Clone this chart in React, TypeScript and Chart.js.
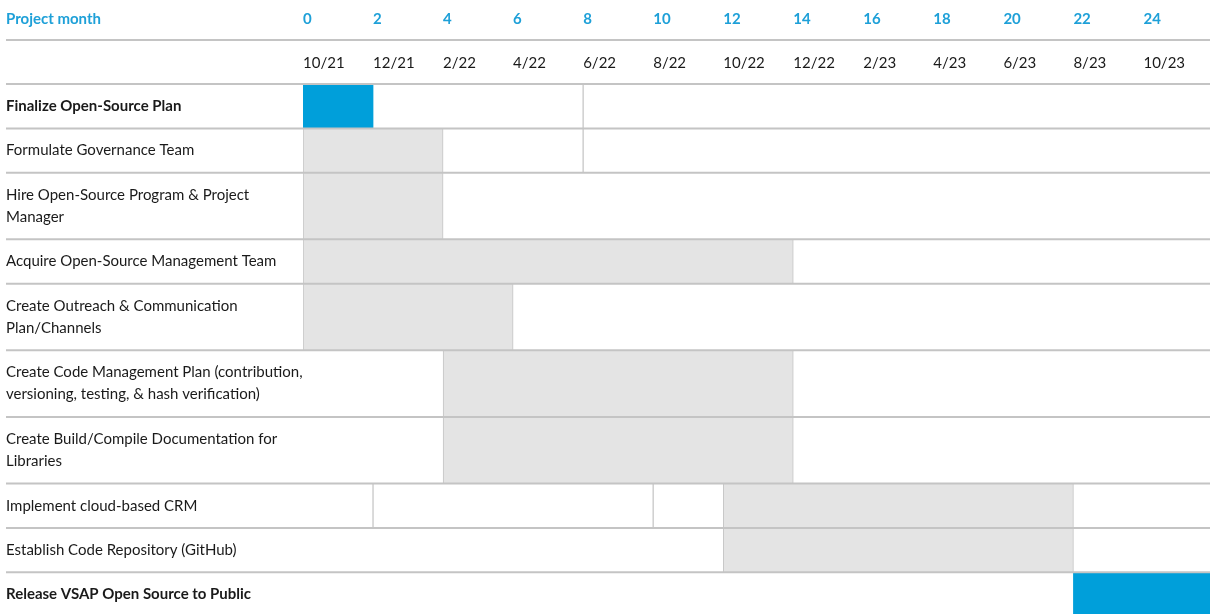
import React, { useEffect, useRef } from 'react';
import { Chart, registerables } from 'chart.js';

Chart.register(...registerables);

// ---------------- data ----------------
const taskLabels: string[][] = [
  ['Finalize Open-Source Plan'],
  ['Formulate Governance Team'],
  ['Hire Open-Source Program & Project', 'Manager'],
  ['Acquire Open-Source Management Team'],
  ['Create Outreach & Communication', 'Plan/Channels'],
  ['Create Code Management Plan (contribution,', 'versioning, testing, & hash verification)'],
  ['Create Build/Compile Documentation for', 'Libraries'],
  ['Implement cloud-based CRM'],
  ['Establish Code Repository (GitHub)'],
  ['Release VSAP Open Source to Public'],
];
const taskStart = [0, 0, 0, 0, 0, 4, 4, 12, 12, 22];
const taskEnd = [2, 4, 4, 14, 6, 14, 14, 22, 22, 26];
const isMilestone = [true, false, false, false, false, false, false, false, false, true];
const monthTicks = [0, 2, 4, 6, 8, 10, 12, 14, 16, 18, 20, 22, 24];
const dateLabels = ['10/21', '12/21', '2/22', '4/22', '6/22', '8/22', '10/22', '12/22', '2/23', '4/23', '6/23', '8/23', '10/23'];
const cellDividers: number[][] = [[8], [8], [], [], [], [], [], [2, 10], [], []];
const headerTitle = 'Project month';

// ---------------- layout / style ----------------
const W = 1210;
const H = 614;
const HEAD1 = 40;
const HEAD2 = 44;
const LEFT_PAD = 6;
const LABEL_W = 297;
const X_MAX = 25.9;
const Y_MAX = 11.94;
const FONT = 'Lato, "Open Sans", sans-serif';
const BLUE = '#009fda';
const HEAD_BLUE = '#1ea0d8';
const GRAY = '#e4e4e4';
const LINE = '#c4c4c4';
const TEXT = '#1a1a1a';

const rowUnits = taskLabels.map((l) => 1 + 0.5 * (l.length - 1));
const rowBounds: number[] = [0];
rowUnits.forEach((u, i) => rowBounds.push(rowBounds[i] + u));
const rowCenters = rowUnits.map((u, i) => rowBounds[i] + u / 2);
const unitPx = (H - HEAD1 - HEAD2) / Y_MAX;

const zeroPad = (s: any) => {
  s.paddingTop = 0;
  s.paddingBottom = 0;
  s.paddingLeft = 0;
  s.paddingRight = 0;
};

const tablePlugin = {
  id: 'tableLines',
  afterDatasetsDraw(chart: any) {
    const { ctx, scales } = chart;
    const y = scales.y;
    const x = scales.x;
    const x2 = scales.x2;
    ctx.save();
    // cell dividers
    ctx.strokeStyle = '#cfcfcf';
    ctx.lineWidth = 1.5;
    cellDividers.forEach((divs, i) => {
      divs.forEach((m) => {
        const px = x.getPixelForValue(m);
        ctx.beginPath();
        ctx.moveTo(px, y.getPixelForValue(rowBounds[i]));
        ctx.lineTo(px, y.getPixelForValue(rowBounds[i + 1]));
        ctx.stroke();
      });
    });
    // horizontal row lines
    ctx.strokeStyle = LINE;
    ctx.lineWidth = 2;
    const ys = [x2.top, ...rowBounds.map((b) => y.getPixelForValue(b))];
    ys.forEach((py) => {
      ctx.beginPath();
      ctx.moveTo(LEFT_PAD, py);
      ctx.lineTo(chart.width, py);
      ctx.stroke();
    });
    ctx.restore();
  },
  afterDraw(chart: any) {
    const { ctx, scales } = chart;
    const x = scales.x;
    ctx.save();
    ctx.font = `bold 15px ${FONT}`;
    ctx.fillStyle = HEAD_BLUE;
    ctx.textBaseline = 'middle';
    ctx.textAlign = 'left';
    ctx.fillText(headerTitle, LEFT_PAD, x.bottom - 12 - 9);
    ctx.restore();
  },
};

export default function App() {
  const ref = useRef<HTMLCanvasElement | null>(null);

  useEffect(() => {
    document.body.style.margin = '0';
    const canvas = ref.current;
    if (!canvas) return;

    const datasets = taskLabels.map((lab, i) => ({
      label: lab.join(' '),
      data: [{ x: [taskStart[i], taskEnd[i]], y: rowCenters[i] }],
      backgroundColor: isMilestone[i] ? BLUE : GRAY,
      borderColor: isMilestone[i] ? BLUE : LINE,
      borderWidth: isMilestone[i] ? 0 : { left: 1, right: 1, top: 0, bottom: 0 },
      borderSkipped: false,
      barThickness: rowUnits[i] * unitPx,
      grouped: false,
      xAxisID: 'x',
      yAxisID: 'y',
    }));

    const chart = new Chart(canvas, {
      type: 'bar',
      data: { datasets: datasets as any },
      plugins: [tablePlugin],
      options: {
        indexAxis: 'y',
        animation: false,
        responsive: false,
        layout: { padding: { left: LEFT_PAD, right: 0, top: 0, bottom: 0 } },
        plugins: {
          legend: { display: false },
          tooltip: { enabled: false },
          title: { display: false },
        },
        scales: {
          x: {
            type: 'linear',
            position: 'top',
            weight: 1,
            min: 0,
            max: X_MAX,
            offset: false,
            grid: { display: false, drawTicks: false },
            border: { display: false },
            afterBuildTicks: (s: any) => {
              s.ticks = monthTicks.map((v) => ({ value: v }));
            },
            afterFit: (s: any) => {
              s.height = HEAD1;
              zeroPad(s);
            },
            ticks: {
              autoSkip: false,
              maxRotation: 0,
              align: 'start',
              padding: 12,
              color: HEAD_BLUE,
              font: { family: FONT, size: 15, weight: 'bold', lineHeight: 1.2 },
              callback: (v: any) => String(v),
            },
          },
          x2: {
            type: 'linear',
            axis: 'x',
            position: 'top',
            weight: 0,
            min: 0,
            max: X_MAX,
            offset: false,
            grid: { display: false, drawTicks: false },
            border: { display: false },
            afterBuildTicks: (s: any) => {
              s.ticks = monthTicks.map((v) => ({ value: v }));
            },
            afterFit: (s: any) => {
              s.height = HEAD2;
              zeroPad(s);
            },
            ticks: {
              autoSkip: false,
              maxRotation: 0,
              align: 'start',
              padding: 12,
              color: TEXT,
              font: { family: FONT, size: 15, lineHeight: 1.2 },
              callback: (_v: any, i: number) => dateLabels[i],
            },
          },
          y: {
            type: 'linear',
            position: 'left',
            min: 0,
            max: Y_MAX,
            reverse: true,
            offset: false,
            grid: { display: false, drawTicks: false },
            border: { display: false },
            afterBuildTicks: (s: any) => {
              s.ticks = rowCenters.map((v) => ({ value: v }));
            },
            afterFit: (s: any) => {
              s.width = LABEL_W;
              zeroPad(s);
            },
            ticks: {
              autoSkip: false,
              crossAlign: 'far',
              padding: 0,
              color: TEXT,
              font: (c: any) => ({
                family: FONT,
                size: 15,
                weight: isMilestone[c.index] ? 'bold' : 'normal',
                lineHeight: 22 / 15,
              }),
              callback: (_v: any, i: number) => taskLabels[i],
            },
          },
        },
      } as any,
    });

    let alive = true;
    if ((document as any).fonts?.load) {
      Promise.all([
        (document as any).fonts.load(`15px Lato`),
        (document as any).fonts.load(`bold 15px Lato`),
      ]).then(() => {
        if (alive) chart.update();
      }).catch(() => {});
    }

    return () => {
      alive = false;
      chart.destroy();
    };
  }, []);

  return (
    <div style={{ width: W, height: H, overflow: 'hidden' }}>
      <canvas ref={ref} width={W} height={H} style={{ display: 'block' }} />
    </div>
  );
}
